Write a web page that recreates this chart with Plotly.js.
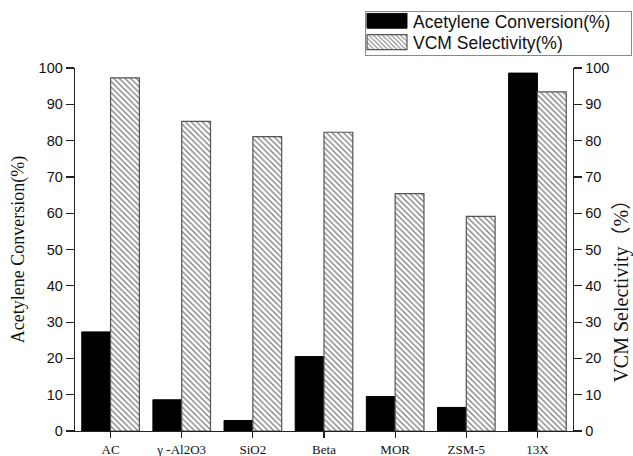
<!DOCTYPE html>
<html>
<head>
<meta charset="utf-8">
<script src="https://cdn.plot.ly/plotly-3.0.1.min.js"></script>
<style>html,body{margin:0;padding:0;background:#fff;}#chart{width:633px;height:456px;}</style>
</head>
<body>
<div id="chart"></div>
<script>
const categories = ["AC", "γ -Al2O3", "SiO2", "Beta", "MOR", "ZSM-5", "13X"];
const conversion = [27.3, 8.6, 2.9, 20.5, 9.5, 6.5, 98.6];
const selectivity = [97.3, 85.3, 81.1, 82.3, 65.4, 59.1, 93.4];
const yTicks = [0, 10, 20, 30, 40, 50, 60, 70, 80, 90, 100];

const sans = "Liberation Sans, Arial, sans-serif";
const serif = "Liberation Serif, Times New Roman, Noto Sans CJK SC, serif";

const traces = [
  {
    type: "bar", name: "Acetylene Conversion(%)", x: categories, y: conversion,
    yaxis: "y", offsetgroup: "1",
    marker: {color: "#000", line: {color: "#000", width: 1}},
    hoverinfo: "x+y"
  },
  {
    type: "bar", name: "VCM Selectivity(%)", x: categories, y: selectivity,
    yaxis: "y2", offsetgroup: "2",
    marker: {color: "#fff", line: {color: "#555", width: 1.2},
      pattern: {shape: "\\", fgcolor: "#777", bgcolor: "#fff", size: 4, solidity: 0.3}},
    hoverinfo: "x+y"
  }
];

const axisCommon = {
  range: [0, 100], tickvals: yTicks, ticktext: yTicks.map(String),
  ticks: "outside", ticklen: 8, tickwidth: 1.2, tickcolor: "#222",
  showline: true, linecolor: "#222", linewidth: 1.3,
  showgrid: false, zeroline: false,
  tickfont: {family: sans, size: 14.5, color: "#111"}, fixedrange: true
};

const layout = {
  width: 633, height: 456,
  margin: {l: 75, r: 60, t: 64, b: 25},
  paper_bgcolor: "#fff", plot_bgcolor: "#fff",
  barmode: "group", bargap: 0.19, bargroupgap: 0,
  showlegend: true,
  legend: {
    x: 0.5823, xanchor: "left", y: 1.155, yanchor: "top",
    bordercolor: "#888", borderwidth: 1, bgcolor: "#fff",
    font: {family: sans, size: 17.5, color: "#111"},
    itemwidth: 37, traceorder: "normal"
  },
  xaxis: {
    type: "category", range: [-0.5, 6.5],
    ticks: "outside", ticklen: 6, tickwidth: 1.2, tickcolor: "#222",
    showline: true, linecolor: "#222", linewidth: 1.3,
    showgrid: false, zeroline: false,
    tickfont: {family: serif, size: 13, color: "#111"}, fixedrange: true
  },
  yaxis: Object.assign({}, axisCommon, {
    title: {text: "Acetylene Conversion(%)", font: {family: serif, size: 18, color: "#111"}, standoff: 9}
  }),
  yaxis2: Object.assign({}, axisCommon, {overlaying: "y", side: "right"}),
  annotations: [{
    text: "VCM Selectivity（%）", xref: "paper", yref: "paper",
    x: 1.098, y: 0.40, xanchor: "center", yanchor: "middle",
    textangle: -90, showarrow: false,
    font: {family: serif, size: 20, color: "#111"}
  }]
};

Plotly.newPlot("chart", traces, layout, {displayModeBar: false, staticPlot: true}).then(function (gd) {
  const legend = gd.querySelector(".legend");
  if (!legend) return;
  const items = legend.querySelectorAll(".traces");
  items.forEach(function (item, i) {
    const text = item.querySelector("text.legendtext");
    if (!text) return;
    const tr0 = text.getBoundingClientRect();
    const cy = tr0.top + tr0.height / 2;
    const want = 21.5 + 21.5 * i;
    const m = /translate\(\s*([-\d.e]+)[ ,]+([-\d.e]+)\s*\)/.exec(item.getAttribute("transform") || "");
    if (m) item.setAttribute("transform", "translate(" + (+m[1]) + "," + (+m[2] + want - cy) + ")");
    const path = item.querySelector(".legendpoints path");
    if (!path) return;
    const pr = path.getBoundingClientRect();
    const tr = text.getBoundingClientRect();
    const cx = pr.left + pr.width / 2;
    const right = tr.left - 6 - cx;
    const left = right - 40;
    path.setAttribute("d", "M" + left + ",-7.5H" + right + "V7.5H" + left + "Z");
  });
  const bg = legend.querySelector("rect.bg");
  if (bg) {
    const r = bg.getBoundingClientRect();
    const bx = +bg.getAttribute("x") || 0, by = +bg.getAttribute("y") || 0;
    bg.setAttribute("x", bx + (365 - r.left));
    bg.setAttribute("y", by + (11.7 - r.top));
    bg.setAttribute("width", 266);
    bg.setAttribute("height", 43.3);
  }
});
</script>
</body>
</html>
